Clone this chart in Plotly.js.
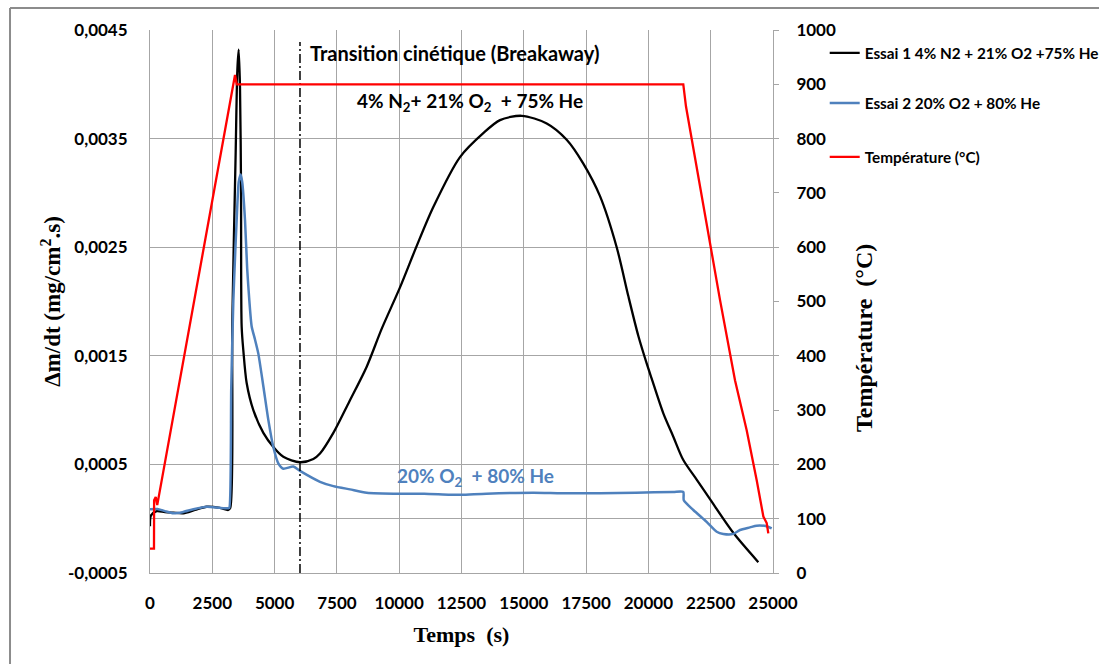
<!DOCTYPE html>
<html>
<head>
<meta charset="utf-8">
<script src="https://cdn.plot.ly/plotly-3.0.1.min.js"></script>
<style>
  html, body { margin: 0; padding: 0; background: #fff; }
  #chart { width: 1099px; height: 664px; }
</style>
</head>
<body>
<div id="chart"></div>
<script>
// ---- Data ----
const essai1Time = [0, 40, 270, 600, 940, 1340, 1800, 2270, 2800, 3140, 3220, 3304, 3438, 3505, 3558, 3611, 3652, 3678, 3745, 3879, 4147, 4548, 4949, 5350, 6019, 6555, 6822, 7357, 8000, 8696, 9300, 10032, 10700, 11369, 12440, 13374, 14045, 14915, 15919, 16721, 17388, 18058, 18727, 19194, 19600, 19931, 20132, 20599, 21000, 21401, 21937, 22472, 23407, 24410];
const essai1Rate = [-0.00007, 0.00003, 0.00007, 0.00006, 0.000055, 0.00005, 0.00008, 0.00011, 0.0001, 0.00008, 0.0001, 0.00183, 0.00337, 0.00413, 0.00432, 0.00398, 0.00306, 0.00177, 0.00155, 0.00125, 0.001, 0.00079, 0.00066, 0.00057, 0.00052, 0.00055, 0.0006, 0.00079, 0.00108, 0.0014, 0.00175, 0.00213, 0.00251, 0.00287, 0.00333, 0.00355, 0.00367, 0.00371, 0.00364, 0.00349, 0.00327, 0.00297, 0.0025, 0.00205, 0.00168, 0.00143, 0.00129, 0.00097, 0.000755, 0.00054, 0.00036, 0.00018, -0.00013, -0.0004];

const essai2Time = [0, 300, 600, 936, 1300, 1739, 2274, 2800, 3143, 3183, 3260, 3343, 3420, 3478, 3560, 3638, 3700, 3812, 3900, 3986, 4080, 4213, 4347, 4548, 4748, 4949, 5149, 5350, 5751, 6019, 6822, 7357, 8026, 8696, 10032, 11000, 12039, 12500, 13500, 15381, 16500, 18058, 19500, 21000, 21400, 21420, 21803, 22338, 22741, 23006, 23407, 23675, 24076, 24343, 24745, 24947];
const essai2Rate = [0.000087, 0.00009, 0.00007, 0.00005, 0.00006, 0.000087, 0.000111, 0.0001, 0.000096, 0.0001, 0.0012, 0.002, 0.00245, 0.00275, 0.0031, 0.00317, 0.0031, 0.00275, 0.0023, 0.00201, 0.00177, 0.00165, 0.00152, 0.00122, 0.00091, 0.00066, 0.00051, 0.00046, 0.00048, 0.00044, 0.00034, 0.0003, 0.00027, 0.00024, 0.00023, 0.00023, 0.00022, 0.00022, 0.00023, 0.00024, 0.000235, 0.000234, 0.00024, 0.000246, 0.000246, 0.00017, 0.00008, -0.00003, -0.00012, -0.00014, -0.00014, -0.000104, -0.00008, -0.000064, -0.00007, -0.00009];

const tempTime = [0, 160, 165, 230, 290, 3411, 3480, 21400, 21509, 22873, 23475, 23944, 24346, 24613, 24747, 24812];
const tempValue = [45, 45, 134, 140, 125, 917, 900, 900, 859, 503, 355, 263, 171, 104, 92, 73];

const breakawayTime = [6019, 6019];
const breakawayRate = [-0.0005, 0.00439];

const xTickVals = [0, 2500, 5000, 7500, 10000, 12500, 15000, 17500, 20000, 22500, 25000];
const xTickText = ['0', '2500', '5000', '7500', '10000', '12500', '15000', '17500', '20000', '22500', '25000'];
const yTickVals = [-0.0005, 0.0005, 0.0015, 0.0025, 0.0035, 0.0045];
const yTickText = ['-0,0005', '0,0005', '0,0015', '0,0025', '0,0035', '0,0045'];
const y2TickVals = [0, 100, 200, 300, 400, 500, 600, 700, 800, 900, 1000];
const y2TickText = ['0', '100', '200', '300', '400', '500', '600', '700', '800', '900', '1000'];

const seriesNames = ['Essai 1 4% N2 + 21% O2 +75% He', 'Essai 2 20% O2 + 80% He', 'Température (°C)'];

// ---- Plot ----
const grid = '#a6a6a6';
const tickFont = {family: 'Lato, "Open Sans", sans-serif', size: 17, color: '#000', weight: 700};
const legFont = {family: 'Lato, "Open Sans", sans-serif', size: 15.3, color: '#000', weight: 700};
const serif = {family: '"Liberation Serif", "DejaVu Serif", serif', size: 22, color: '#000', weight: 700};

const traces = [
  {x: essai1Time, y: essai1Rate, name: seriesNames[0], type: 'scatter', mode: 'lines',
   line: {color: '#000000', width: 2.3, shape: 'spline', smoothing: 0.8}, yaxis: 'y', legend: 'legend'},
  {x: essai2Time, y: essai2Rate, name: seriesNames[1], type: 'scatter', mode: 'lines',
   line: {color: '#4F81BD', width: 2.5, shape: 'spline', smoothing: 0.6}, yaxis: 'y', legend: 'legend2'},
  {x: tempTime, y: tempValue, name: seriesNames[2], type: 'scatter', mode: 'lines',
   line: {color: '#FF0000', width: 2.3}, yaxis: 'y2', legend: 'legend3'},
  {x: breakawayTime, y: breakawayRate, type: 'scatter', mode: 'lines', showlegend: false,
   line: {color: '#000000', width: 1.5, dash: '9px,3px,2px,3px'}, yaxis: 'y', hoverinfo: 'skip'}
];

function legendAt(y) {
  return {x: 1.083, y: y, xanchor: 'left', yanchor: 'middle', font: legFont,
          bgcolor: 'rgba(0,0,0,0)', borderwidth: 0};
}

const layout = {
  width: 1099, height: 664,
  margin: {l: 150, r: 326, t: 30, b: 91, autoexpand: false},
  paper_bgcolor: '#ffffff', plot_bgcolor: '#ffffff',
  showlegend: true,
  legend: legendAt(0.9576),
  legend2: legendAt(0.8656),
  legend3: legendAt(0.7661),
  xaxis: {
    range: [0, 25000], tickvals: xTickVals, ticktext: xTickText,
    showgrid: true, gridcolor: grid, gridwidth: 1,
    showline: true, linecolor: grid, linewidth: 1, zeroline: false,
    ticks: '', tickfont: tickFont, ticklabelstandoff: 15,
    title: {text: 'Temps\u00a0\u00a0(s)', font: serif, standoff: 14}
  },
  yaxis: {
    range: [-0.0005, 0.0045], tickvals: yTickVals, ticktext: yTickText,
    showgrid: true, gridcolor: grid, gridwidth: 1,
    zeroline: true, zerolinecolor: grid, zerolinewidth: 1,
    showline: true, linecolor: grid, linewidth: 1,
    ticks: '', tickfont: tickFont, ticklabelstandoff: 18,
    title: {text: '\u0394m/dt (mg/cm<sup>2</sup>.s)', font: Object.assign({}, serif, {size: 23}), standoff: 0}
  },
  yaxis2: {
    range: [0, 1000], overlaying: 'y', side: 'right', anchor: 'x',
    tickvals: y2TickVals, ticktext: y2TickText,
    showgrid: false, zeroline: false,
    showline: true, linecolor: grid, linewidth: 1,
    ticks: 'outside', ticklen: 5, tickcolor: grid, tickwidth: 1,
    tickfont: tickFont, ticklabelstandoff: 14
  },
  annotations: [
    {xref: 'paper', yref: 'paper', x: 1.1461, y: 0.4328, text: 'Température\u00a0\u00a0(°C)',
     textangle: -90, showarrow: false, font: Object.assign({}, serif, {size: 24}),
     xanchor: 'center', yanchor: 'middle'},
    {xref: 'x', yref: 'y', x: 6340, y: 0.004288, text: 'Transition cinétique (Breakaway)',
     showarrow: false, xanchor: 'left', yanchor: 'middle',
     font: {family: 'Lato, sans-serif', size: 20, color: '#000', weight: 700}},
    {xref: 'x', yref: 'y', x: 12821, y: 0.003837, text: '4% N<sub>2</sub>+ 21% O<sub>2</sub>  + 75% He',
     showarrow: false, xanchor: 'center', yanchor: 'middle',
     font: {family: 'Lato, sans-serif', size: 19, color: '#000', weight: 700}},
    {xref: 'x', yref: 'y', x: 13062, y: 0.000384, text: '20% O<sub>2</sub>  + 80% He',
     showarrow: false, xanchor: 'center', yanchor: 'middle',
     font: {family: 'Lato, sans-serif', size: 19, color: '#4F81BD', weight: 700}}
  ],
  shapes: [
    {type: 'line', xref: 'paper', yref: 'paper', x0: -0.2247, x1: 2, y0: 1.0405, y1: 1.0405,
     line: {color: '#8c8c8c', width: 2}},
    {type: 'line', xref: 'paper', yref: 'paper', x0: -0.2247, x1: -0.2247, y0: 1.0405, y1: -0.2,
     line: {color: '#8c8c8c', width: 2}}
  ]
};

Plotly.newPlot('chart', traces, layout, {displayModeBar: false, staticPlot: true});
</script>
</body>
</html>
